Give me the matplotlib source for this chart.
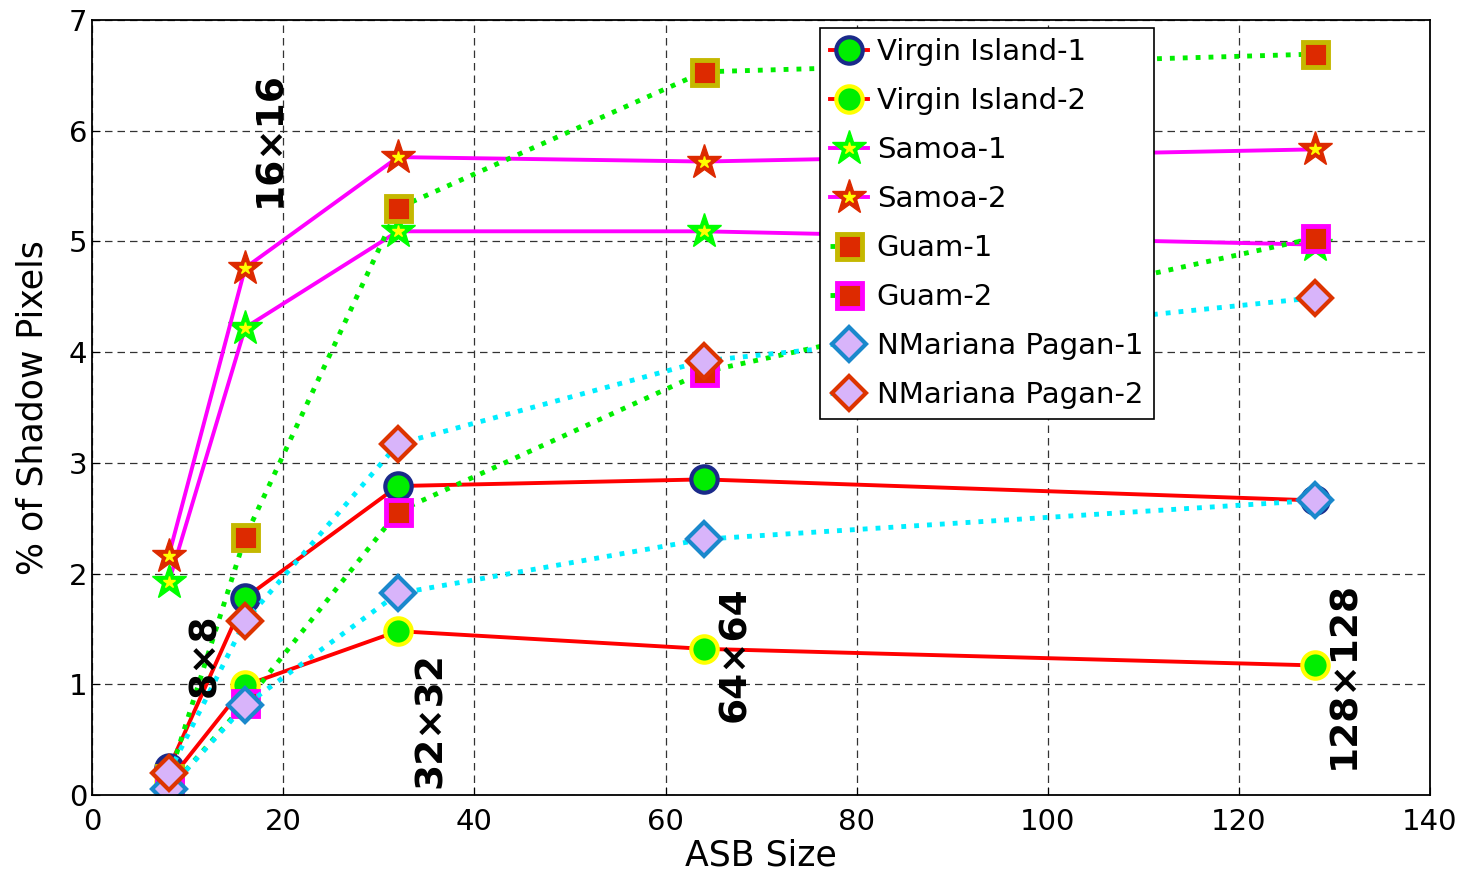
import numpy as np
import matplotlib
matplotlib.use("Agg")
import matplotlib.pyplot as plt
from matplotlib.legend_handler import HandlerTuple

# ASB block sizes
asb = [8, 16, 32, 64, 128]

vi1 = [0.24, 1.78, 2.79, 2.85, 2.66]
vi2 = [0.12, 0.99, 1.48, 1.32, 1.17]
samoa1 = [1.92, 4.22, 5.09, 5.09, 4.97]
samoa2 = [2.16, 4.76, 5.76, 5.72, 5.83]
guam1 = [0.15, 2.33, 5.30, 6.53, 6.69]
guam2 = [0.05, 0.83, 2.56, 3.82, 5.03]
nmp1 = [0.05, 0.81, 1.82, 2.31, 2.66]
nmp2 = [0.20, 1.57, 3.17, 3.92, 4.49]

names = ['Virgin Island-1', 'Virgin Island-2', 'Samoa-1', 'Samoa-2',
         'Guam-1', 'Guam-2', 'NMariana Pagan-1', 'NMariana Pagan-2']

size_labels = ['8\u00d78', '16\u00d716', '32\u00d732', '64\u00d764', '128\u00d7128']
size_label_pos = [(11.8, 1.26), (18.6, 5.92), (35.4, 0.68), (67.3, 1.27), (131.1, 1.08)]

plt.rcParams['font.family'] = ['DejaVu Sans']

fig = plt.figure(figsize=(14.65, 8.75), dpi=100)
ax = fig.add_axes([0.063, 0.0914, 0.913, 0.886])

lw = 2.8
handles = []

h, = ax.plot(asb, vi1, '-', color='#ff0000', lw=lw, marker='o', ms=19,
             mfc='#00ee00', mec='#1a2a8a', mew=3)
handles.append(h)
h, = ax.plot(asb, vi2, '-', color='#ff0000', lw=lw, marker='o', ms=19,
             mfc='#00ee00', mec='#ffff00', mew=3)
handles.append(h)
h, = ax.plot(asb, samoa1, '-', color='#ff00ff', lw=lw, marker='*', ms=26,
             mfc='#00ff00', mec='#00ff00', mew=1)
hi, = ax.plot(asb, samoa1, ls='none', marker='*', ms=9, mfc='#ffff00', mec='#ffff00')
handles.append((h, hi))
h, = ax.plot(asb, samoa2, '-', color='#ff00ff', lw=lw, marker='*', ms=26,
             mfc='#dd2a00', mec='#dd2a00', mew=1)
hi, = ax.plot(asb, samoa2, ls='none', marker='*', ms=9, mfc='#ffff00', mec='#ffff00')
handles.append((h, hi))
h, = ax.plot(asb, guam1, ':', color='#00ee00', lw=3.5, marker='s', ms=18,
             mfc='#dd2a00', mec='#c4b800', mew=3.5)
handles.append(h)
h, = ax.plot(asb, guam2, ':', color='#00ee00', lw=3.5, marker='s', ms=18,
             mfc='#dd2a00', mec='#ff00ff', mew=3.5)
handles.append(h)
h, = ax.plot(asb, nmp1, ':', color='#00eeff', lw=3.5, marker='D', ms=17,
             mfc='#d8b4fa', mec='#1a88cc', mew=3)
handles.append(h)
h, = ax.plot(asb, nmp2, ':', color='#00eeff', lw=3.5, marker='D', ms=17,
             mfc='#d8b4fa', mec='#dd3300', mew=3)
handles.append(h)

for txt, (x, y) in zip(size_labels, size_label_pos):
    ax.text(x, y, txt, rotation=90, ha='center', va='center',
            fontsize=27, fontweight='bold', color='black')

ax.set_xlim(0, 140)
ax.set_ylim(0, 7)
ax.set_xticks(np.arange(0, 141, 20))
ax.set_yticks(np.arange(0, 8, 1))
ax.tick_params(direction='in', labelsize=21, length=6)
ax.tick_params(axis='x', pad=9)
ax.grid(True, ls=(0, (6, 4)), color='#333333', lw=0.9)
for s in ax.spines.values():
    s.set_linewidth(1.3)

ax.set_xlabel('ASB Size', fontsize=25, labelpad=2)
ax.set_ylabel('% of Shadow Pixels', fontsize=25, labelpad=14)

leg = ax.legend(handles, names, loc='upper left', bbox_to_anchor=(0.544, 0.99),
                borderaxespad=0, fontsize=21,
                handler_map={tuple: HandlerTuple(ndivide=1, pad=0)},
                handlelength=1.3, handletextpad=0.3, labelspacing=0.72,
                borderpad=0.35, fancybox=False, framealpha=1, edgecolor='black')
leg.get_frame().set_linewidth(1.2)

fig.savefig('out.png', dpi=100)
